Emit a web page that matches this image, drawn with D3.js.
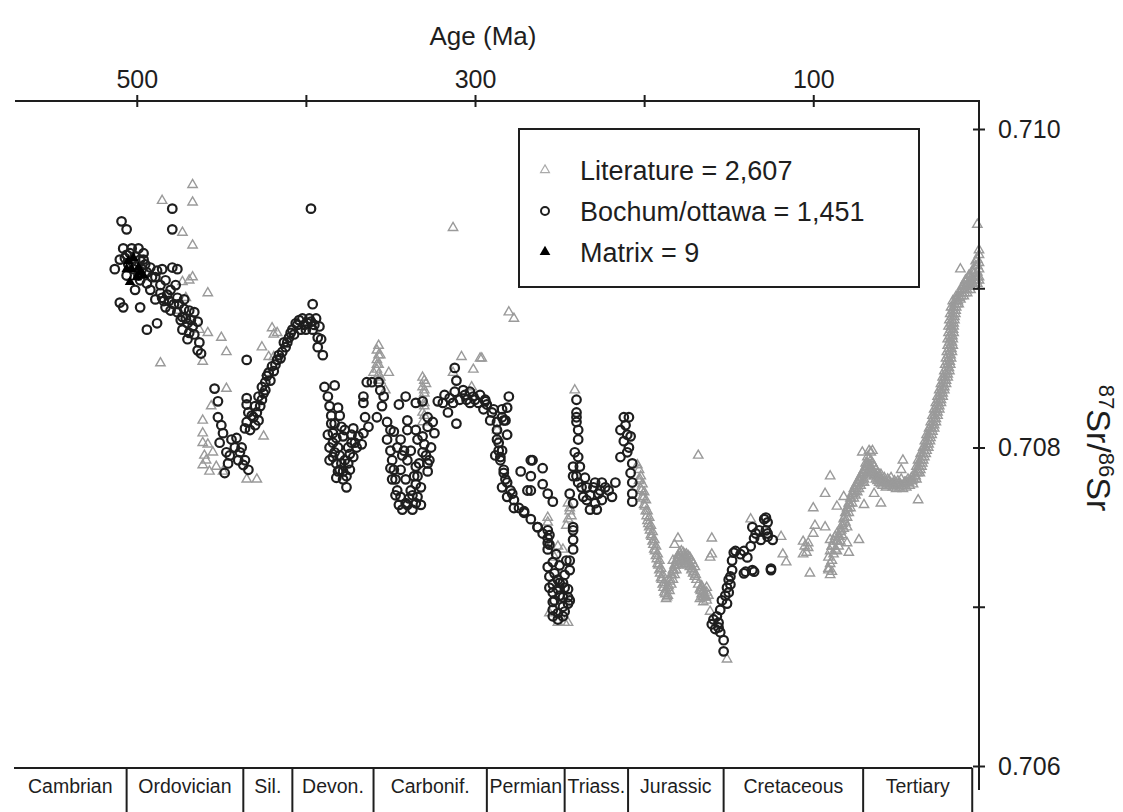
<!DOCTYPE html>
<html>
<head>
<meta charset="utf-8">
<script src="https://cdn.jsdelivr.net/npm/d3@7"></script>
<style>
  html, body { margin: 0; padding: 0; background: #fff; }
  svg { display: block; font-family: "Liberation Sans", Arial, Helvetica, sans-serif; }
</style>
</head>
<body>
<svg id="chart" width="1123" height="812"></svg>
<script>
// ---- Age axis (Ma) ----
const ageTicks = [500, 400, 300, 200, 100];
const ageLabels = [500, 300, 100];

// ---- 87Sr/86Sr axis ----
const srTicks = [0.706, 0.707, 0.708, 0.709, 0.710];
const srLabels = [0.706, 0.708, 0.710];

// ---- Geological time scale strip ----
const periods = ["Cambrian", "Ordovician", "Sil.", "Devon.", "Carbonif.", "Permian", "Triass.", "Jurassic", "Cretaceous", "Tertiary"];
const periodEdges = [573, 506, 437, 408, 360, 293, 247, 209.5, 153, 70.5, 6];

// ---- Legend ----
const legendLabels = ["Literature = 2,607", "Bochum/ottawa = 1,451", "Matrix = 9"];

// ---- Literature data [age Ma, 87Sr/86Sr]: scattered values ----
const litScatter = [
  [467,0.70965],[485,0.70955],[467,0.70954],[473,0.70935],[467,0.70927],[467,0.70907],[473,0.70904],[469,0.70905],
  [458,0.70897],[486,0.70853],[450,0.70869],[447,0.70860],[461,0.70854],[476,0.70886],[471,0.70894],[458,0.70872],
  [463,0.70874],[420,0.70875],[419,0.70871],[417,0.70872],[426,0.70863],[447,0.70837],[456,0.70826],[461,0.70817],
  [461,0.70809],[461,0.70803],[461,0.70789],[457,0.70785],[453,0.70788],[449,0.70785],[455,0.70797],[425,0.70807],
  [429,0.70780],[435,0.70780],[422,0.70857],[419,0.70857],[423,0.70847],[460,0.70795],[458,0.70802],[459,0.70792],
  [358,0.70861],[358,0.70855],[358,0.70849],[360,0.70847],[351,0.70847],[356,0.70844],[353,0.70836],[358,0.70852],
  [356,0.70858],[356,0.70842],[331,0.70844],[331,0.70838],[331,0.70830],[331,0.70822],[331,0.70816],[329,0.70840],
  [330,0.70834],[330,0.70826],[280,0.70885],[277,0.70881],[308,0.70857],[297,0.70856],[301,0.70849],[302,0.70838],
  [313,0.70847],[313,0.70938],[241,0.70836],[287,0.70811],[285,0.70807],[296,0.70856],
  [357,0.70864],[357,0.70858],[357,0.70852],[357,0.70846],[330,0.70842],[330,0.70836],[330,0.70828],[330,0.70820],
  [257,0.70756],[257,0.70753],[251,0.70738],[248,0.70736],[253,0.70731],[256,0.70696],[251,0.70690],[247,0.70690],
  [245,0.70690],[245,0.70765],[244,0.70760],[245,0.70755],[244,0.70762],[243,0.70757],[246,0.70751],
  [168,0.70795],[180,0.70743],[182,0.70739],[160,0.70743],[161,0.70731],[183,0.70729],[161,0.70697],[151,0.70667],
  [166,0.70712],[163,0.70712],[165,0.70706],
  [160,0.70733],[137,0.70755],[119,0.70744],[118,0.70733],[116,0.70728],[102,0.70721],[106,0.70733],[103,0.70740],
  [100,0.70746],[99,0.70751],[100,0.70762],[93,0.70771],[90,0.70782],[93,0.70750],[90,0.70742],[91,0.70723],
  [89,0.70738],[86,0.70746],[86,0.70763],[82,0.70769],[80,0.70750],[80,0.70740],[79,0.70734],[73,0.70742],
  [71,0.70797],[68,0.70794],[65,0.70798],[69,0.70790],[70,0.70778],[47,0.70792],[48,0.70786],[60,0.70765],
  [70,0.70764],[64,0.70771],[38,0.70767],[13,0.70912],[3,0.70940],
  [105,0.70738],[104,0.70734],[103,0.70737],[106,0.70741]
];

// ---- Literature data: dense Jurassic trend ----
const litJurassic = [
  [204,0.70789],[203,0.70786],[203,0.70779],[202,0.70782],[202,0.70774],[201,0.70777],[201,0.70769],[200,0.70772],
  [200,0.70764],[199,0.70767],[199,0.70760],[198,0.70760],[198,0.70754],[197,0.70756],[197,0.70750],[196,0.70751],
  [196,0.70745],[195,0.70747],[195,0.70741],[194,0.70742],[194,0.70736],[193,0.70738],[193,0.70732],[192,0.70733],
  [192,0.70727],[191,0.70729],[191,0.70723],[190,0.70724],[190,0.70718],[189,0.70720],[189,0.70714],[188,0.70715],
  [188,0.70709],[187,0.70711],[187,0.70705],[186,0.70707],
  [186,0.70712],[185,0.70710],[185,0.70716],[184,0.70714],[184,0.70720],[183,0.70717],[183,0.70723],[182,0.70720],
  [182,0.70726],[181,0.70723],[181,0.70729],[180,0.70726],[180,0.70732],[179,0.70728],[179,0.70734],[178,0.70729],
  [178,0.70735],[177,0.70728],[177,0.70734],[176,0.70727],[176,0.70733],[175,0.70727],[175,0.70733],[174,0.70726],
  [174,0.70732],[173,0.70725],[173,0.70731],[172,0.70723],[172,0.70729],[171,0.70721],[171,0.70727],[170,0.70719],
  [170,0.70725],[169,0.70717],
  [168,0.70714],[167,0.70711],[167,0.70705],[166,0.70713],[166,0.70708],[165,0.70703],[165,0.70710],[164,0.70706],
  [163,0.70709],[163,0.70704],[162,0.70707],
  [202.5,0.70780],[201.5,0.70773],[200.5,0.70768],[199.5,0.70763],[198.5,0.70757],[197.5,0.70752],[196.5,0.70748],
  [195.5,0.70744],[194.5,0.70739],[193.5,0.70735],[192.5,0.70730],[191.5,0.70726],[190.5,0.70721],[189.5,0.70717],
  [188.5,0.70712],[187.5,0.70708],[186.5,0.70706],[185.5,0.70713],[184.5,0.70717],[183.5,0.70720],[182.5,0.70723],
  [181.5,0.70726],[180.5,0.70729],[179.5,0.70731],[178.5,0.70732],[177.5,0.70731],[176.5,0.70730],[175.5,0.70730],
  [174.5,0.70729],[173.5,0.70728],[172.5,0.70726],[171.5,0.70724],[170.5,0.70722],[169.5,0.70720],[166.5,0.70710],
  [165.5,0.70706],[164.5,0.70708],[163.5,0.70706]
];

// ---- Literature data: dense Late Cretaceous to Eocene trend ----
const litCretaceous = [
  [91,0.70724],[90,0.70727],[91,0.70731],[90,0.70735],[89,0.70729],[89,0.70738],[88,0.70733],[88,0.70741],
  [87,0.70736],[87,0.70744],[90,0.70720],[89,0.70722],
  [86,0.70735],[86,0.70741],[85,0.70738],[85,0.70744],[84,0.70741],[84,0.70747],[83,0.70745],[83,0.70751],
  [82,0.70749],[82,0.70755],[81,0.70753],[81,0.70759],[80,0.70756],[80,0.70762],[79,0.70759],[79,0.70765],
  [78,0.70762],[78,0.70768],[77,0.70765],[77,0.70771],[76,0.70768],[76,0.70774],[75,0.70770],[75,0.70776],
  [74,0.70772],[74,0.70778],[73,0.70774],[73,0.70780],[72,0.70776],[72,0.70782],[71,0.70778],[71,0.70784],
  [70,0.70780],[70,0.70786],[69,0.70782],[69,0.70788],
  [68,0.70784],[68,0.70790],[67,0.70786],[67,0.70793],[66,0.70785],[66,0.70792],[65,0.70784],[65,0.70790],
  [64,0.70782],[64,0.70788],[63,0.70780],[63,0.70786],[62,0.70779],[62,0.70784],[61,0.70778],[61,0.70783],
  [67,0.70798],[66,0.70797],
  [60,0.70777],[60,0.70783],[59,0.70776],[58,0.70781],[57,0.70775],[56,0.70780],[55,0.70776],[54,0.70781],
  [53,0.70775],[52,0.70779],[51,0.70774],[50,0.70779],[49,0.70775],[48,0.70780],[47,0.70774],[46,0.70778],
  [45,0.70775],[44,0.70780],[43,0.70776],[42,0.70781],[41,0.70777],[40,0.70782],[39,0.70780],[38,0.70785],
  [85.5,0.70741],[84.5,0.70744],[83.5,0.70748],[82.5,0.70752],[81.5,0.70756],[80.5,0.70759],[79.5,0.70762],
  [78.5,0.70765],[77.5,0.70768],[76.5,0.70771],[75.5,0.70773],[74.5,0.70775],[73.5,0.70777],[72.5,0.70779],
  [71.5,0.70781],[70.5,0.70783],[69.5,0.70785],[68.5,0.70787],[67.5,0.70789],[66.5,0.70789],[65.5,0.70787],
  [64.5,0.70785],[63.5,0.70783],[62.5,0.70782],[61.5,0.70781],[60.5,0.70780],[59.5,0.70779],[58.5,0.70778],
  [57.5,0.70778],[56.5,0.70777],[55.5,0.70779],[54.5,0.70778],[53.5,0.70777],[52.5,0.70777],[51.5,0.70776],
  [50.5,0.70777],[49.5,0.70777],[48.5,0.70777],[47.5,0.70776],[46.5,0.70776],[45.5,0.70778],[44.5,0.70778],
  [43.5,0.70778],[42.5,0.70779],[41.5,0.70779],[40.5,0.70780],[39.5,0.70782]
];

// ---- Literature data: dense Neogene rise ----
const litTertiary = [
  [40,0.70784],[38.5,0.70784],[37,0.70784],[39,0.70788],[37.5,0.70788],[36,0.70788],
  [38,0.70792],[36.5,0.70792],[35,0.70792],[36.5,0.70796],[35,0.70796],[33.5,0.70796],
  [35,0.70800],[33.5,0.70800],[32,0.70800],[34,0.70804],[32.5,0.70804],[31,0.70804],
  [33,0.70808],[31.5,0.70808],[30,0.70808],[31.5,0.70812],[30,0.70812],[28.5,0.70812],
  [30.5,0.70816],[29,0.70816],[27.5,0.70816],[29.5,0.70820],[28,0.70820],[26.5,0.70820],
  [28.5,0.70824],[27,0.70824],[25.5,0.70824],[27.5,0.70828],[26,0.70828],[24.5,0.70828],
  [26.5,0.70832],[25,0.70832],[23.5,0.70832],[25.5,0.70836],[24,0.70836],[22.5,0.70836],
  [24.5,0.70840],[23,0.70840],[21.5,0.70840],[23.5,0.70844],[22,0.70844],[20.5,0.70844],
  [22.5,0.70848],[21,0.70848],[19.5,0.70848],[22,0.70852],[20.5,0.70852],[19,0.70852],
  [21.5,0.70856],[20,0.70856],[18.5,0.70856],[21,0.70860],[19.5,0.70860],[18,0.70860],
  [20.5,0.70864],[19,0.70864],[17.5,0.70864],[20.5,0.70868],[19,0.70868],[17.5,0.70868],
  [20,0.70872],[18.5,0.70872],[17,0.70872],[20,0.70876],[18.5,0.70876],[17,0.70876],
  [19.5,0.70880],[18,0.70880],[16.5,0.70880],[19,0.70884],[17.5,0.70884],[16,0.70884],
  [18.5,0.70888],[17,0.70888],[15.5,0.70888],[17.5,0.70892],[16,0.70892],[14.5,0.70892],
  [15.5,0.70895],[14,0.70895],[12.5,0.70895],[13.5,0.70897],[12,0.70897],[10.5,0.70897],
  [12,0.70899],[10.5,0.70899],[9,0.70899],[10,0.70901],[8.5,0.70901],[7,0.70901],
  [8.5,0.70903],[7,0.70903],[5.5,0.70903],[6.5,0.70905],[5,0.70905],[3.5,0.70905],
  [4.5,0.70907],[3,0.70907],[2,0.70907],
  [10,0.70905],[8,0.70908],[6,0.70911],[4,0.70914],[3,0.70918],[2,0.70921],[2,0.70912],
  [5,0.70909],[7,0.70906],[9,0.70902],[12,0.70901],[3,0.70910],
  [38.2,0.70786],[36.7,0.70786],[37,0.70790],[35.5,0.70790],[35.8,0.70794],[34.3,0.70794],
  [34.5,0.70798],[33,0.70798],[33.3,0.70802],[31.8,0.70802],[32.2,0.70806],[30.7,0.70806],
  [31,0.70810],[29.5,0.70810],[30,0.70814],[28.5,0.70814],[29,0.70818],[27.5,0.70818],
  [28,0.70822],[26.5,0.70822],[27,0.70826],[25.5,0.70826],[26,0.70830],[24.5,0.70830],
  [25,0.70834],[23.5,0.70834],[24,0.70838],[22.5,0.70838],[23,0.70842],[21.5,0.70842],
  [22,0.70846],[20.5,0.70846],[21.3,0.70850],[19.8,0.70850],[20.8,0.70854],[19.3,0.70854],
  [20.3,0.70858],[18.8,0.70858],[19.8,0.70862],[18.3,0.70862],[19.5,0.70866],[18,0.70866],
  [19.2,0.70870],[17.7,0.70870],[18.8,0.70874],[17.3,0.70874],[18.5,0.70878],[17,0.70878],
  [18,0.70882],[16.5,0.70882],[17.3,0.70886],[15.8,0.70886],[16.5,0.70890],[15,0.70890],
  [15,0.70894],[13.5,0.70894],
  [14,0.70890],[13,0.70893],[11,0.70895],[9,0.70897],[7,0.70899],[5,0.70901],[3,0.70903],[2,0.70905],
  [11,0.70902],[9,0.70905],[7,0.70908],[5,0.70911],[3,0.70914],[2,0.70916],[4,0.70917],[2,0.70924]
];

const literature = litScatter.concat(litJurassic, litCretaceous, litTertiary);

// ---- Bochum/Ottawa data [age Ma, 87Sr/86Sr] ----
const bochumEarly = [
  [509,0.70942],[506,0.70937],[479,0.70950],[479,0.70937],[397,0.70950],
  [513,0.70912],[504,0.70922],[499,0.70925],[496,0.70918],[502,0.70912],[498,0.70905],[494,0.70903],[489,0.70907],
  [485,0.70912],[479,0.70913],[476,0.70912],
  [510,0.70891],[508,0.70888],[498,0.70888],[494,0.70874],[488,0.70878],[485,0.70894],[482,0.70896],[476,0.70894],
  [483,0.70888],[480,0.70886],[476,0.70885],[473,0.70882],[470,0.70878],[466,0.70885],[464,0.70879],[463,0.70866],
  [462,0.70859],[469,0.70872],[473,0.70874],[396,0.70890],
  [507,0.70919],[505,0.70915],[503,0.70917],[500,0.70914],[499,0.70908],[497,0.70912],[495,0.70915],[492,0.70913],
  [506,0.70908],[510,0.70918],[501,0.70899],[492,0.70899],[489,0.70893],[486,0.70902],[483,0.70905],[480,0.70899],
  [477,0.70902],[472,0.70893],[469,0.70886],[474,0.70880],[470,0.70868],[466,0.70871],[464,0.70861],
  [508,0.70925],[506,0.70921],[503,0.70925],[501,0.70920],[498,0.70918],[496,0.70922],[494,0.70910],[491,0.70907],
  [488,0.70911],[486,0.70897],[484,0.70892],[481,0.70892],[478,0.70890],[475,0.70890],[472,0.70887],[471,0.70881],
  [468,0.70880],[467,0.70876]
];

const bochumSilurian = [
  [435,0.70855],[454,0.70837],[435,0.70831],[435,0.70827],[452,0.70819],[449,0.70809],[451,0.70803],[447,0.70797],
  [442,0.70800],[439,0.70797],[436,0.70792],[434,0.70786],[448,0.70784],[435,0.70816],[431,0.70819],[429,0.70822],
  [427,0.70826],[425,0.70834],[424,0.70841],[422,0.70847],[420,0.70851],[417,0.70855],[414,0.70860],[411,0.70866],
  [409,0.70872],[406,0.70878],[404,0.70880],[400,0.70874],[399,0.70878],[396,0.70874],[393,0.70869],[393,0.70863],
  [390,0.70858],
  [433,0.70811],[430,0.70814],[428,0.70817],[426,0.70830],[424,0.70836],[421,0.70842],[418,0.70852],[415,0.70856],
  [412,0.70863],[408,0.70874],[405,0.70877],[402,0.70881],[398,0.70881],[395,0.70877],[444,0.70805],[440,0.70792],
  [437,0.70789],[445,0.70795],
  [432,0.70820],[430,0.70826],[428,0.70832],[426,0.70838],[423,0.70845],[419,0.70848],[416,0.70858],[413,0.70866],
  [410,0.70869],[407,0.70871],[403,0.70874],[401,0.70877],[397,0.70879],[394,0.70881],[392,0.70876],[391,0.70868],
  [434,0.70822],[436,0.70812],[438,0.70800],[441,0.70806],[446,0.70790],[450,0.70814],[452,0.70829]
];

const bochumDevonian = [
  [389,0.70838],[383,0.70839],[387,0.70832],[381,0.70825],[380,0.70820],[385,0.70815],[384,0.70809],[384,0.70803],
  [383,0.70797],[382,0.70790],[381,0.70785],[378,0.70780],[376,0.70775],[374,0.70786],[372,0.70794],[375,0.70800],
  [378,0.70807],[379,0.70813],[373,0.70803],[370,0.70800],[367,0.70802],[366,0.70809],[363,0.70813],[365,0.70819],
  [366,0.70828],[366,0.70832],[364,0.70841],[361,0.70841],[357,0.70841],[356,0.70836],[354,0.70832],[355,0.70826],
  [358,0.70819],[352,0.70816],[350,0.70811],[352,0.70805],[350,0.70798],[349,0.70792],[348,0.70786],[347,0.70780],
  [346,0.70773],[344,0.70769],[341,0.70765],[337,0.70761],[335,0.70765],[334,0.70769],[332,0.70775],[334,0.70782],
  [335,0.70788],[340,0.70792],[342,0.70798],[338,0.70798],[344,0.70805],[340,0.70811],[335,0.70811],[334,0.70805],
  [331,0.70797],[328,0.70790],[328,0.70785],[331,0.70807],[328,0.70813],[325,0.70816],[324,0.70809],[328,0.70819],
  [335,0.70828],[331,0.70829],[341,0.70832],[345,0.70827],[340,0.70817],
  [386,0.70792],[380,0.70786],[377,0.70792],[382,0.70781],[344,0.70786],[341,0.70780],[338,0.70773],[335,0.70777],
  [340,0.70764],[332,0.70764],[377,0.70811],
  [386,0.70826],[385,0.70820],[383,0.70815],[382,0.70806],[381,0.70800],[380,0.70795],[379,0.70790],[378,0.70785],
  [376,0.70782],[375,0.70790],[374,0.70796],[373,0.70808],[372,0.70812],[371,0.70803],[369,0.70807],[384,0.70794],
  [386,0.70800],[387,0.70808],
  [350,0.70787],[349,0.70780],[347,0.70770],[345,0.70764],[343,0.70761],[339,0.70768],[337,0.70770],[336,0.70782],
  [333,0.70790],[330,0.70802],[329,0.70795],[326,0.70800],[327,0.70792],[343,0.70795],[346,0.70800],[348,0.70810]
];

const bochumCarbPerm = [
  [322,0.70829],[319,0.70828],[316,0.70822],[313,0.70828],[312,0.70835],[311,0.70842],[312,0.70850],[307,0.70836],
  [305,0.70830],[301,0.70832],[298,0.70828],[293,0.70827],[289,0.70824],[291,0.70817],[287,0.70816],[284,0.70819],
  [281,0.70825],[280,0.70832],[283,0.70817],[287,0.70805],[286,0.70798],[285,0.70794],[283,0.70786],[281,0.70778],
  [279,0.70773],[277,0.70767],[274,0.70762],[271,0.70759],[267,0.70755],[263,0.70750],[260,0.70746],[257,0.70743],
  [256,0.70739],[266,0.70792],[273,0.70785],[267,0.70782],[260,0.70787],[267,0.70773],[260,0.70777],[257,0.70771],
  [254,0.70766],[281,0.70808],[311,0.70815],
  [318,0.70833],[315,0.70831],[309,0.70830],[306,0.70833],[303,0.70828],[300,0.70830],[297,0.70833],[295,0.70824],
  [294,0.70830],[303,0.70835],
  [294,0.70829],[290,0.70822],[284,0.70824],[282,0.70817],[287,0.70811],[286,0.70803],[284,0.70798],[288,0.70795],
  [285,0.70792],[283,0.70784],[282,0.70780],[284,0.70775],[281,0.70769],[278,0.70771],[277,0.70762],[271,0.70760],
  [263,0.70750],[257,0.70748],[256,0.70745],[267,0.70792],[269,0.70773],
  [257,0.70740],[257,0.70736],[257,0.70725],[256,0.70719],[256,0.70712],[254,0.70709],[254,0.70703],[254,0.70698],
  [254,0.70694],[251,0.70696],[248,0.70700],[248,0.70706],[247,0.70712],[248,0.70715],[245,0.70711],[245,0.70706],
  [245,0.70702],[248,0.70694],[250,0.70715],[244,0.70723],[244,0.70729],[242,0.70736],[242,0.70742],[242,0.70748],
  [251,0.70711],[253,0.70721],[254,0.70728],
  [253,0.70704],[250,0.70707],[251,0.70717],[247,0.70720],[250,0.70726],[252,0.70733],[254,0.70714],[246,0.70729],
  [244,0.70704],[251,0.70692],[247,0.70697]
];

const bochumMesozoic = [
  [240,0.70822],[240,0.70819],[240,0.70816],[239,0.70805],[239,0.70794],[242,0.70788],[238,0.70788],[240,0.70782],
  [239,0.70778],[244,0.70771],[237,0.70775],[236,0.70769],[234,0.70767],[232,0.70761],[229,0.70765],[227,0.70771],
  [225,0.70767],[223,0.70775],[221,0.70773],[217,0.70778],[219,0.70769],[225,0.70778],[230,0.70775],[234,0.70775],
  [241,0.70797],[242,0.70782],[242,0.70765],[242,0.70750],[229,0.70778],[228,0.70761],[235,0.70781],[232,0.70770],
  [226,0.70773],[240,0.70830],[239,0.70811],
  [212,0.70819],[209,0.70819],[214,0.70811],[210,0.70808],[212,0.70804],[210,0.70797],[214,0.70794],[207,0.70790],
  [208,0.70784],[207,0.70778],[207,0.70771],[207,0.70766],[208,0.70807],[211,0.70814],[209,0.70800],
  [159,0.70692],[156,0.70690],[158,0.70686],[155,0.70684],[153,0.70679],[153,0.70672],[157,0.70694],[151,0.70702],
  [150,0.70709],[151,0.70712],[149,0.70719],[148,0.70723],[146,0.70735],[141,0.70735],[139,0.70731],[141,0.70721],
  [136,0.70723],[137,0.70738],[135,0.70743],[132,0.70748],[129,0.70755],[128,0.70748],[127,0.70744],[124,0.70742],
  [136,0.70750],[125,0.70723],[150,0.70717],[147,0.70734],[140,0.70722],[135,0.70722],[134,0.70746],[128,0.70756],
  [127,0.70753],[127,0.70746],[131,0.70742],[125,0.70724],[155,0.70698],[154,0.70704],[152,0.70707],[156,0.70687],
  [160,0.70689],[149,0.70714],[148,0.70729],[143,0.70733]
];

const bochum = bochumEarly.concat(bochumSilurian, bochumDevonian, bochumCarbPerm, bochumMesozoic);

// ---- Matrix data [age Ma, 87Sr/86Sr] ----
const matrix = [
  [505,0.70917],[503,0.70912],[500,0.70907],[498,0.70910],[504,0.70904],
  [499,0.70913],[502,0.70919],[496,0.70908],[506,0.70912]
];

// ================= drawing =================
const svg = d3.select("#chart");
const INK = "#1e1e1e";
const LIT = "#9a9a9a";

const AXIS_TOP = 101;
const AXIS_RIGHT = 979;

const x = d3.scaleLinear().domain([572, 2]).range([15, AXIS_RIGHT]);
const y = d3.scaleLinear().domain([0.706, 0.710]).range([766, 129]);

// Literature: open grey triangles
const triPath = d3.symbol().type(d3.symbolTriangle).size(38)();
svg.append("g")
  .selectAll("path")
  .data(literature)
  .join("path")
  .attr("d", triPath)
  .attr("transform", d => `translate(${x(d[0])},${y(d[1])})`)
  .attr("fill", "none")
  .attr("stroke", LIT)
  .attr("stroke-width", 1.4);

// Bochum/Ottawa: open black circles
svg.append("g")
  .selectAll("circle")
  .data(bochum)
  .join("circle")
  .attr("cx", d => x(d[0]))
  .attr("cy", d => y(d[1]))
  .attr("r", 4.3)
  .attr("fill", "none")
  .attr("stroke", INK)
  .attr("stroke-width", 2.2);

// Matrix: filled black triangles
const triFill = d3.symbol().type(d3.symbolTriangle).size(48)();
svg.append("g")
  .selectAll("path")
  .data(matrix)
  .join("path")
  .attr("d", triFill)
  .attr("transform", d => `translate(${x(d[0])},${y(d[1])})`)
  .attr("fill", "#000");

// Top age axis
svg.append("line")
  .attr("x1", 15).attr("x2", AXIS_RIGHT)
  .attr("y1", AXIS_TOP).attr("y2", AXIS_TOP)
  .attr("stroke", INK).attr("stroke-width", 2);

const gTop = svg.append("g")
  .attr("transform", `translate(0,${AXIS_TOP})`)
  .call(d3.axisTop(x).tickValues(ageTicks).tickSize(6)
    .tickFormat(d => ageLabels.includes(d) ? String(d) : ""));
gTop.select(".domain").remove();
gTop.selectAll(".tick line")
  .attr("y1", 6).attr("y2", -6)
  .attr("stroke", INK).attr("stroke-width", 2);
gTop.selectAll(".tick text")
  .attr("y", -13).attr("dy", 0)
  .attr("fill", INK)
  .style("font-size", "25px")
  .style("font-family", "'Liberation Sans', Arial, sans-serif");

svg.append("text")
  .attr("x", 483).attr("y", 45)
  .attr("text-anchor", "middle")
  .attr("fill", INK)
  .style("font-size", "26px")
  .text("Age (Ma)");

// Right Sr axis
svg.append("line")
  .attr("x1", AXIS_RIGHT).attr("x2", AXIS_RIGHT)
  .attr("y1", AXIS_TOP - 1).attr("y2", 790)
  .attr("stroke", INK).attr("stroke-width", 2);

const gRight = svg.append("g")
  .attr("transform", `translate(${AXIS_RIGHT},0)`)
  .call(d3.axisRight(y).tickValues(srTicks).tickSize(6)
    .tickFormat(d => srLabels.some(v => Math.abs(v - d) < 1e-9) ? d3.format(".3f")(d) : ""));
gRight.select(".domain").remove();
gRight.selectAll(".tick line")
  .attr("x1", -6).attr("x2", 6)
  .attr("stroke", INK).attr("stroke-width", 2);
gRight.selectAll(".tick text")
  .attr("x", 19)
  .attr("fill", INK)
  .style("font-size", "25px")
  .style("font-family", "'Liberation Sans', Arial, sans-serif");

// Right axis title: 87Sr/86Sr
const title = svg.append("text")
  .attr("transform", "translate(1087,448) rotate(90)")
  .attr("text-anchor", "middle")
  .attr("fill", INK)
  .style("font-size", "34px");
title.append("tspan").attr("dy", -12).style("font-size", "22px").text("87");
title.append("tspan").attr("dy", 12).text("Sr/");
title.append("tspan").attr("dy", -12).style("font-size", "22px").text("86");
title.append("tspan").attr("dy", 12).text("Sr");

// Geological period strip
const STRIP_Y = 768;
svg.append("line")
  .attr("x1", 14).attr("x2", x(periodEdges[periodEdges.length - 1]))
  .attr("y1", STRIP_Y).attr("y2", STRIP_Y)
  .attr("stroke", INK).attr("stroke-width", 2);

svg.append("g")
  .selectAll("line")
  .data(periodEdges.slice(1))
  .join("line")
  .attr("x1", d => x(d)).attr("x2", d => x(d))
  .attr("y1", STRIP_Y).attr("y2", 812)
  .attr("stroke", INK).attr("stroke-width", 2);

svg.append("g")
  .selectAll("text")
  .data(periods)
  .join("text")
  .attr("x", (d, i) => (Math.max(14, x(periodEdges[i])) + x(periodEdges[i + 1])) / 2)
  .attr("y", 793)
  .attr("text-anchor", "middle")
  .attr("fill", INK)
  .style("font-size", "19.5px")
  .text(d => d);

// Legend
const legend = svg.append("g");
legend.append("rect")
  .attr("x", 519).attr("y", 129)
  .attr("width", 400).attr("height", 158)
  .attr("fill", "#fff")
  .attr("stroke", INK).attr("stroke-width", 2);

const rowsY = [170, 211, 252];
legend.append("path")
  .attr("d", d3.symbol().type(d3.symbolTriangle).size(34)())
  .attr("transform", `translate(545,${rowsY[0]})`)
  .attr("fill", "none").attr("stroke", "#aaa").attr("stroke-width", 1.2);
legend.append("circle")
  .attr("cx", 545).attr("cy", rowsY[1]).attr("r", 4)
  .attr("fill", "none").attr("stroke", INK).attr("stroke-width", 2);
legend.append("path")
  .attr("d", d3.symbol().type(d3.symbolTriangle).size(50)())
  .attr("transform", `translate(545,${rowsY[2]})`)
  .attr("fill", "#000");

legend.selectAll("text.lbl")
  .data(legendLabels)
  .join("text")
  .attr("class", "lbl")
  .attr("x", 580)
  .attr("y", (d, i) => rowsY[i] + 10)
  .attr("fill", INK)
  .style("font-size", "27px")
  .text(d => d);
</script>
</body>
</html>
